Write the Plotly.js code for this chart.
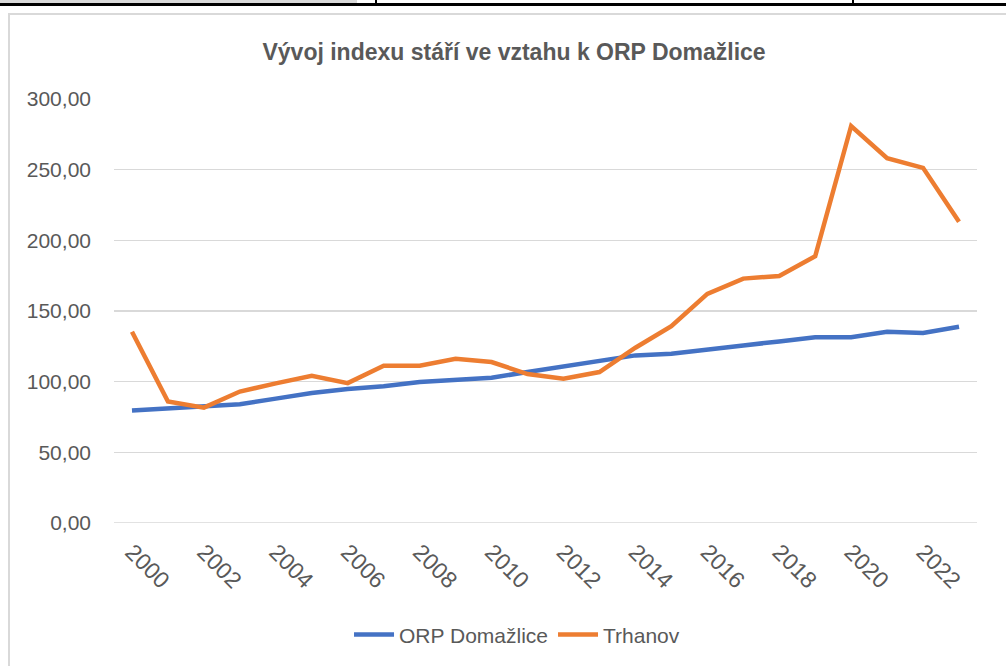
<!DOCTYPE html>
<html>
<head>
<meta charset="utf-8">
<script src="https://cdn.plot.ly/plotly-3.0.1.min.js"></script>
<style>
html,body{margin:0;padding:0;background:#fff;}
#wrap{position:relative;width:1006px;height:666px;overflow:hidden;}
#chart{position:absolute;left:0;top:0;width:1006px;height:666px;}
.deco{position:absolute;pointer-events:none;}
</style>
</head>
<body>
<div id="wrap">
<div id="chart"></div>
<div class="deco" style="left:0;top:0;width:357px;height:3px;background:#d9d9d9;"></div>
<div class="deco" style="left:0;top:3px;width:1006px;height:3px;background:#000;"></div>
<div class="deco" style="left:852px;top:0;width:2px;height:4px;background:#000;"></div>
<div class="deco" style="left:375px;top:0;width:2px;height:3px;background:#000;"></div>
<div class="deco" style="left:8px;top:13px;width:1010px;height:670px;border:2px solid #d9d9d9;box-sizing:border-box;"></div>
</div>
<script>
const years = ["2000","2001","2002","2003","2004","2005","2006","2007","2008","2009","2010","2011",
               "2012","2013","2014","2015","2016","2017","2018","2019","2020","2021","2022","2023"];
const orpDomazlice = [79.6,81.2,82.3,84.0,88.0,92.0,94.8,96.7,99.8,101.4,102.8,106.8,
                      111.0,115.0,118.6,119.8,122.4,125.6,128.5,131.5,131.5,135.3,134.4,138.8];
const trhanov = [135.3,85.9,81.6,93.0,98.8,104.2,99.0,111.3,111.3,116.2,113.9,105.4,
                 102.1,106.8,124.0,139.3,162.1,172.9,174.8,188.7,280.9,258.1,251.3,213.2];
const tickYears = ["2000","2002","2004","2006","2008","2010","2012","2014","2016","2018","2020","2022"];
const seriesNames = ["ORP Domažlice","Trhanov"];
const titleText = "Vývoj indexu stáří ve vztahu k ORP Domažlice";

const FONT = "Liberation Sans, Arial, sans-serif";
const traces = [
  {x: years, y: orpDomazlice, name: seriesNames[0], type: "scatter", mode: "lines",
   line: {color: "#4472C4", width: 4.5, shape: "linear"}},
  {x: years, y: trhanov, name: seriesNames[1], type: "scatter", mode: "lines",
   line: {color: "#ED7D31", width: 4.5, shape: "linear"}}
];
const layout = {
  width: 1006, height: 666,
  margin: {l: 114, r: 29, t: 99, b: 142},
  paper_bgcolor: "rgba(0,0,0,0)", plot_bgcolor: "rgba(0,0,0,0)",
  separators: ", ",
  font: {family: FONT, color: "#595959", size: 21},
  title: {text: "<b>" + titleText + "</b>", x: 0.511, xanchor: "center", y: 0.922, yanchor: "middle",
          font: {family: FONT, size: 23, color: "#595959"}},
  xaxis: {type: "category", range: [-0.5, 23.5], tickmode: "array", tickvals: tickYears, ticktext: tickYears,
          tickangle: 45, showgrid: false, showline: false, ticks: "", zeroline: false,
          ticklabelstandoff: 10,
          tickfont: {family: FONT, size: 23, color: "#595959"}, fixedrange: true},
  yaxis: {range: [0, 300], tickvals: [0,50,100,150,200,250,300], tickformat: ".2f",
          showgrid: true, gridcolor: "#d9d9d9", gridwidth: 1.5, zeroline: false, showline: false,
          ticks: "", ticklabelstandoff: 22,
          tickfont: {family: FONT, size: 21, color: "#595959"}, fixedrange: true},
  showlegend: true,
  legend: {orientation: "h", x: 0.467, xanchor: "center", y: -0.261, yanchor: "middle",
           font: {family: FONT, size: 21, color: "#595959"}, itemwidth: 40, traceorder: "normal"},
  shapes: [{type: "line", xref: "paper", yref: "y", x0: 0, x1: 1, y0: 0, y1: 0,
            line: {color: "#d9d9d9", width: 1.5}, layer: "below"}]
};
Plotly.newPlot("chart", traces, layout, {displayModeBar: false, staticPlot: true});
</script>
</body>
</html>
